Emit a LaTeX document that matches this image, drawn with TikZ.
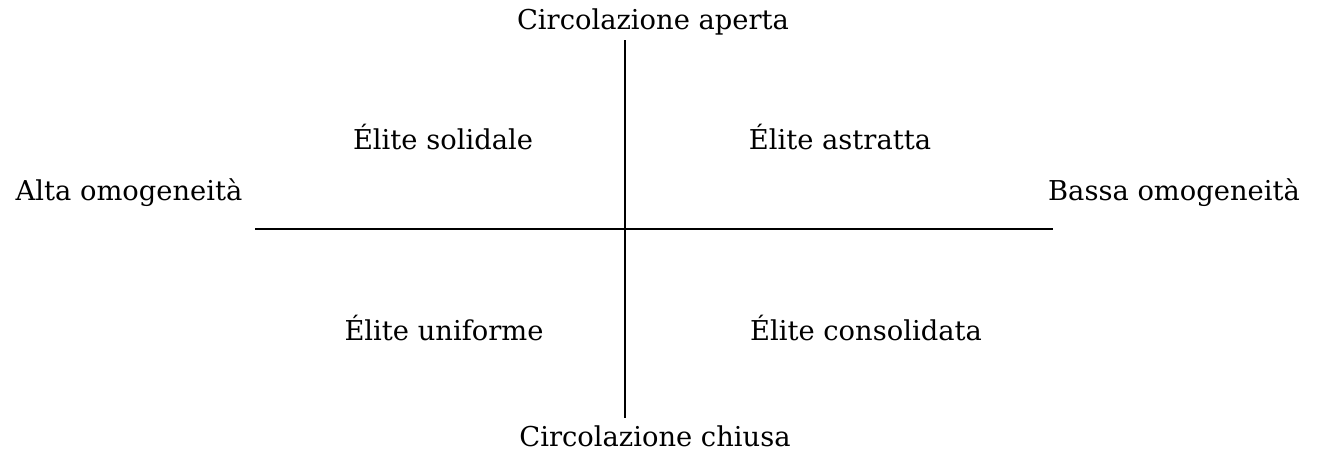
\documentclass[tikz,border=0pt]{standalone}
\usepackage{fontspec}
\setmainfont{DejaVu Serif}
\usetikzlibrary{positioning, calc}
\tikzset{
  axislabel/.style={
    font=\fontsize{20.5}{24}\selectfont, inner sep=0pt, anchor=center
  },
  quadlabel/.style={
    font=\fontsize{20.5}{24}\selectfont, inner sep=0pt, anchor=center
  },
  axisline/.style={
    line width=1.6pt, color=black
  }
}
\begin{document}
\begin{tikzpicture}[x=0.75pt, y=-0.75pt]

  \useasboundingbox (0,0) rectangle (1322,455);

  % Axis end points
  \coordinate (top) at (625,40);
  \coordinate (bottom) at (625,418);
  \coordinate (left) at (255,229);
  \coordinate (right) at (1053,229);

  % Axes
  \draw[axisline] (top) -- (bottom);
  \draw[axisline] (left) -- (right);

  % Axis labels
  \node[axislabel] (aperta) at (653,22) {Circolazione aperta};
  \node[axislabel] (chiusa) at (655,436) {Circolazione chiusa};
  \node[axislabel] (alta) at (129,193) {Alta omogeneità};
  \node[axislabel] (bassa) at (1174,193) {Bassa omogeneità};

  % Quadrants
  \node[quadlabel] (solidale) at (443,137) {Élite solidale};
  \node[quadlabel] (astratta) at (840,137) {Élite astratta};
  \node[quadlabel] (uniforme) at (444,328) {Élite uniforme};
  \node[quadlabel] (consolidata) at (866,328) {Élite consolidata};

\end{tikzpicture}
\end{document}
